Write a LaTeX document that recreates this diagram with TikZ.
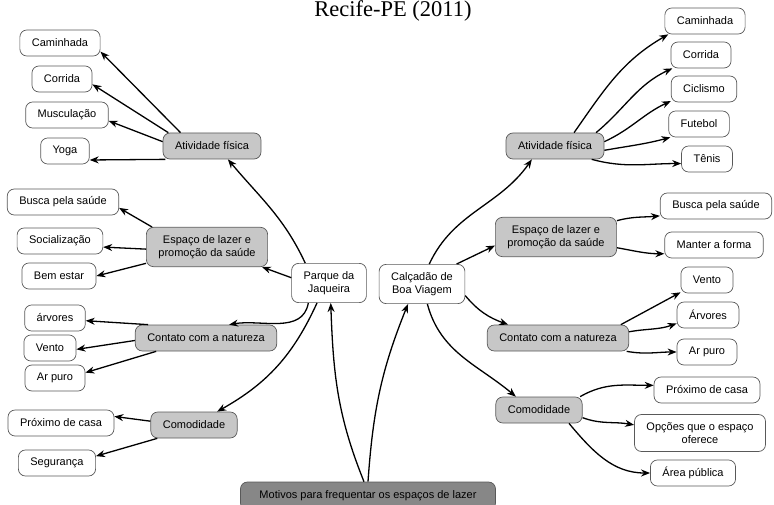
\documentclass[tikz,border=0pt]{standalone}
\usepackage{fontspec}
\setmainfont{Liberation Serif}
\newfontfamily\boxfont{Liberation Sans}
\usetikzlibrary{arrows.meta}

\tikzset{
  box/.style={draw=black!65, line width=0.7pt, fill=white, rounded corners=7pt,
    font=\boxfont\fontsize{11}{13}\selectfont, inner xsep=12pt, inner ysep=3pt, minimum height=26pt},
  topic/.style={box, fill=black!22},
  twoline/.style={align=center, inner ysep=8pt},
  root/.style={box, fill=black!47, inner xsep=19pt, minimum height=28pt},
  link/.style={line width=1.3pt, black, -{Stealth[length=9pt,width=7pt]}},
}

\begin{document}
\begin{tikzpicture}[x=1pt,y=1pt]
  \useasboundingbox (0,0) rectangle (774,-505);
  \node[font=\fontsize{22.5}{26}\selectfont, anchor=base] (title) at (393,-17) {Recife-PE (2011)};

  % centre
  \node[root] (mot) at (368,-496) {Motivos para frequentar os espaços de lazer};
  \node[box,twoline] (pq) at (329,-283) {Parque da\\Jaqueira};
  \node[box,twoline] (cal) at (422,-284) {Calçadão de\\Boa Viagem};

  % Parque da Jaqueira
  \node[topic] (afL) at (212,-146) {Atividade física};
  \node[topic,twoline] (espL) at (207,-247) {Espaço de lazer e\\promoção da saúde};
  \node[topic] (ctL) at (206,-338) {Contato com a natureza};
  \node[topic] (comL) at (194,-425) {Comodidade};
  \node[box] (camL) at (60,-43) {Caminhada};
  \node[box] (corL) at (62,-79) {Corrida};
  \node[box] (musL) at (67,-115) {Musculação};
  \node[box] (yogL) at (65,-151) {Yoga};
  \node[box] (busL) at (63,-202) {Busca pela saúde};
  \node[box] (socL) at (60,-241) {Socialização};
  \node[box] (bemL) at (59,-276) {Bem estar};
  \node[box] (arvL) at (55,-318) {árvores};
  \node[box] (venL) at (50,-348) {Vento};
  \node[box] (arpL) at (55,-378) {Ar puro};
  \node[box] (proL) at (61,-423) {Próximo de casa};
  \node[box] (segL) at (57,-463) {Segurança};

  % Calçadão de Boa Viagem
  \node[topic] (afR) at (555,-146) {Atividade física};
  \node[topic,twoline] (espR) at (556,-237) {Espaço de lazer e\\promoção da saúde};
  \node[topic] (ctR) at (558,-338) {Contato com a natureza};
  \node[topic] (comR) at (539,-410) {Comodidade};
  \node[box] (camR) at (705,-21) {Caminhada};
  \node[box] (corR) at (701,-55) {Corrida};
  \node[box] (cicR) at (704,-89) {Ciclismo};
  \node[box] (futR) at (699,-124) {Futebol};
  \node[box] (tenR) at (707,-159) {Tênis};
  \node[box] (busR) at (716,-206) {Busca pela saúde};
  \node[box] (manR) at (714,-245) {Manter a forma};
  \node[box] (venR) at (707,-280) {Vento};
  \node[box] (arvR) at (708,-315) {Árvores};
  \node[box] (arpR) at (707,-352) {Ar puro};
  \node[box] (proR) at (707,-390) {Próximo de casa};
  \node[box,twoline] (opcR) at (700,-433) {Opções que o espaço\\oferece};
  \node[box] (areR) at (693,-473) {Área pública};

  % ligações centrais
  \draw[link] ([xshift=-4pt]mot.north) to[out=112,in=-88] (pq.-85);
  \draw[link] (mot.north) to[out=86,in=-112] (cal.-125);

  \draw[link] (pq.140) to[out=115,in=-50] (afL.-40);
  \draw[link] (pq.172) -- (espL.-20);
  \draw[link] (pq.-136) to[out=-100,in=10] (ctL.30);
  \draw[link] (pq.-121) to[bend left=18] (comL.30);

  \draw[link] (cal.70) to[out=65,in=-125] (afR.-150);
  \draw[link] (cal.30) -- (espR.-172);
  \draw[link] (cal.-15) to[out=-50,in=160] (ctR.165);
  \draw[link] (cal.-75) to[out=-75,in=140] (comR.150);

  % lado esquerdo
  \draw[link] (afL.157) -- (camL.-12);
  \draw[link] (afL.163) -- (corL.-10);
  \draw[link] (afL.175) -- (musL.-8);
  \draw[link] (afL.-164) -- (yogL.-20);
  \draw[link] (espL.160) -- (busL.-6);
  \draw[link] (espL.182) -- (socL.-8);
  \draw[link] (espL.-165) -- (bemL.east);
  \draw[link] (ctL.167) -- (arvL.-5);
  \draw[link] (ctL.-178) -- (venL.-3);
  \draw[link] (ctL.-165) -- (arpL.10);
  \draw[link] (comL.175) -- (proL.7);
  \draw[link] (comL.-160) -- (segL.10);

  % lado direito
  \draw[link] (afR.35) to[out=55,in=-150] (camR.-160);
  \draw[link] (afR.18) to[out=40,in=-155] (corR.-155);
  \draw[link] (afR.5) to[out=25,in=-155] (cicR.-160);
  \draw[link] (afR.-5) to[out=10,in=-165] (futR.-155);
  \draw[link] (afR.-20) to[out=-15,in=180] (tenR.-170);
  \draw[link] (espR.15) to[out=15,in=-175] (busR.-170);
  \draw[link] (espR.-10) to[out=-10,in=180] (manR.-170);
  \draw[link] (ctR.12) -- (venR.-155);
  \draw[link] (ctR.5) to[out=10,in=-160] (arvR.-165);
  \draw[link] (ctR.-11) to[out=-10,in=180] (arpR.west);
  \draw[link] (comR.18) to[out=30,in=180] (proR.175);
  \draw[link] (comR.-10) to[out=-20,in=170] (opcR.173);
  \draw[link] (comR.-24) to[out=-50,in=180] (areR.west);
\end{tikzpicture}
\end{document}
